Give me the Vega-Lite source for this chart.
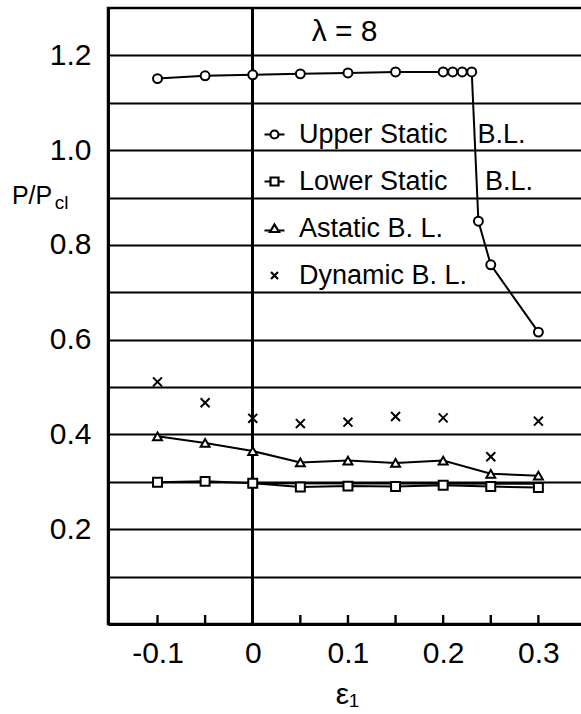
{
  "$schema": "https://vega.github.io/schema/vega-lite/v6.json",
  "width": 478,
  "height": 616,
  "autosize": {"type": "none"},
  "padding": {"left": 108, "top": 8, "right": 0, "bottom": 90},
  "background": "white",
  "config": {
    "font": "Liberation Sans",
    "view": {"stroke": "black", "strokeWidth": 2.5}
  },
  "datasets": {
    "pts": [
      {"series": "Upper", "e": -0.1, "p": 1.151},
      {"series": "Upper", "e": -0.05, "p": 1.157},
      {"series": "Upper", "e": 0, "p": 1.159},
      {"series": "Upper", "e": 0.05, "p": 1.161},
      {"series": "Upper", "e": 0.1, "p": 1.163},
      {"series": "Upper", "e": 0.15, "p": 1.165},
      {"series": "Upper", "e": 0.2, "p": 1.165},
      {"series": "Upper", "e": 0.21, "p": 1.165},
      {"series": "Upper", "e": 0.22, "p": 1.165},
      {"series": "Upper", "e": 0.23, "p": 1.165},
      {"series": "Upper", "e": 0.237, "p": 0.85},
      {"series": "Upper", "e": 0.25, "p": 0.758},
      {"series": "Upper", "e": 0.3, "p": 0.616},
      {"series": "Lower", "e": -0.1, "p": 0.299},
      {"series": "Lower", "e": -0.05, "p": 0.301},
      {"series": "Lower", "e": 0, "p": 0.297},
      {"series": "Lower", "e": 0.05, "p": 0.289},
      {"series": "Lower", "e": 0.1, "p": 0.291},
      {"series": "Lower", "e": 0.15, "p": 0.29},
      {"series": "Lower", "e": 0.2, "p": 0.293},
      {"series": "Lower", "e": 0.25, "p": 0.29},
      {"series": "Lower", "e": 0.3, "p": 0.288},
      {"series": "Astatic", "e": -0.1, "p": 0.396},
      {"series": "Astatic", "e": -0.05, "p": 0.382},
      {"series": "Astatic", "e": 0, "p": 0.365},
      {"series": "Astatic", "e": 0.05, "p": 0.341},
      {"series": "Astatic", "e": 0.1, "p": 0.345},
      {"series": "Astatic", "e": 0.15, "p": 0.34},
      {"series": "Astatic", "e": 0.2, "p": 0.345},
      {"series": "Astatic", "e": 0.25, "p": 0.317},
      {"series": "Astatic", "e": 0.3, "p": 0.313},
      {"series": "Dynamic", "e": -0.1, "p": 0.511},
      {"series": "Dynamic", "e": -0.05, "p": 0.467},
      {"series": "Dynamic", "e": 0, "p": 0.434},
      {"series": "Dynamic", "e": 0.05, "p": 0.423},
      {"series": "Dynamic", "e": 0.1, "p": 0.426},
      {"series": "Dynamic", "e": 0.15, "p": 0.438},
      {"series": "Dynamic", "e": 0.2, "p": 0.435},
      {"series": "Dynamic", "e": 0.25, "p": 0.353},
      {"series": "Dynamic", "e": 0.3, "p": 0.428},
      {"series": "Ref", "e": 0, "p": 0.297},
      {"series": "Ref", "e": 0.3, "p": 0.296}
    ]
  },
  "data": {"name": "pts"},
  "resolve": {"scale": {"shape": "independent"}, "legend": {"shape": "independent"}},
  "layer": [
    {
      "transform": [{"filter": "datum.series != 'Dynamic'"}],
      "mark": {"type": "line", "color": "black", "strokeWidth": 2},
      "encoding": {
        "x": {
          "field": "e", "type": "quantitative",
          "scale": {"domain": [-0.152, 0.35], "nice": false, "zero": false},
          "axis": {
            "values": [-0.1, 0, 0.1, 0.2, 0.3],
            "grid": false,
            "ticks": false,
            "domainColor": "black", "domainWidth": 3,
            "labelFontSize": 30, "labelColor": "black", "labelPadding": 14,
            "labelFont": "Liberation Sans",
            "labelExpr": "datum.value == 0 ? '0' : ((datum.value < 0 ? '-' : '') + format(abs(datum.value), '.1f'))",
            "title": "ε₁", "titleFontSize": 30, "titleFont": "Liberation Sans",
            "titleFontWeight": "normal", "titleColor": "black", "titlePadding": 11
          }
        },
        "y": {
          "field": "p", "type": "quantitative",
          "scale": {"domain": [0, 1.3], "nice": false, "zero": false},
          "axis": {
            "values": [0.1, 0.2, 0.3, 0.4, 0.5, 0.6, 0.7, 0.8, 0.9, 1.0, 1.1, 1.2],
            "grid": true, "gridColor": "black", "gridWidth": 1.8, "gridOpacity": 1,
            "ticks": false,
            "domainColor": "black", "domainWidth": 3,
            "labelFontSize": 30, "labelColor": "black", "labelPadding": 17,
            "labelFont": "Liberation Sans",
            "labelExpr": "(round(datum.value*10) % 2 == 0) ? format(datum.value, '.1f') : ''",
            "title": null
          }
        },
        "detail": {"field": "series"}
      }
    },
    {
      "mark": {"type": "rule", "color": "black", "strokeWidth": 2},
      "encoding": {"x": {"datum": 0, "type": "quantitative"}}
    },
    {
      "transform": [{"filter": "datum.series == 'Lower'"}],
      "mark": {"type": "rule", "color": "black", "strokeWidth": 2.4},
      "encoding": {
        "x": {"field": "e", "type": "quantitative"},
        "y": {"datum": 0, "type": "quantitative"},
        "y2": {"datum": 0.019}
      }
    },
    {
      "transform": [{"filter": "datum.series != 'Ref'"}],
      "mark": {"type": "point", "filled": true, "fill": "white", "stroke": "black", "strokeWidth": 2, "size": 80, "opacity": 1},
      "encoding": {
        "x": {"field": "e", "type": "quantitative"},
        "y": {"field": "p", "type": "quantitative"},
        "shape": {
          "field": "series", "type": "nominal",
          "scale": {"domain": ["Upper", "Lower", "Astatic", "Dynamic"], "range": ["circle", "square", "triangle-up", "M-1,-1L1,1M-1,1L1,-1"]},
          "legend": null
        }
      }
    },
    {
      "transform": [{"filter": "datum.series != 'Ref'"}],
      "mark": {"type": "point", "opacity": 0, "size": 400},
      "encoding": {
        "x": {"field": "e", "type": "quantitative"},
        "y": {"field": "p", "type": "quantitative"},
        "shape": {
          "field": "series", "type": "nominal",
          "scale": {
            "domain": ["Upper", "Lower", "Astatic", "Dynamic"],
            "range": [
              "M-1,0L-0.4,0M0.4,0L1,0M0.4,0A0.4,0.4,0,1,1,-0.4,0A0.4,0.4,0,1,1,0.4,0",
              "M-1,0L-0.4,0M0.4,0L1,0M-0.4,-0.4L0.4,-0.4L0.4,0.4L-0.4,0.4Z",
              "M-1,0.2L-0.36,0.2M0.36,0.2L1,0.2M0,-0.4L0.45,0.35L-0.45,0.35Z",
              "M-0.35,-0.35L0.35,0.35M-0.35,0.35L0.35,-0.35"
            ]
          },
          "legend": {
            "orient": "none", "legendX": 153, "legendY": 113,
            "title": null, "padding": 0,
            "labelFontSize": 27, "labelFont": "Liberation Sans", "labelColor": "black",
            "labelLimit": 400, "labelOffset": 11,
            "symbolSize": 400, "symbolStrokeColor": "black", "symbolFillColor": "white",
            "symbolStrokeWidth": 2.2, "symbolOpacity": 1,
            "rowPadding": 19,
            "labelExpr": "datum.label == 'Upper' ? 'Upper Static\u00a0\u00a0\u00a0\u00a0B.L.' : datum.label == 'Lower' ? 'Lower Static\u00a0\u00a0\u00a0\u00a0\u00a0B.L.' : datum.label == 'Astatic' ? 'Astatic B. L.' : 'Dynamic B. L.'"
          }
        }
      }
    },
    {
      "data": {"values": [{}]},
      "mark": {"type": "text", "text": "λ = 8", "fontSize": 30, "align": "center", "baseline": "middle", "font": "Liberation Sans", "color": "black"},
      "encoding": {"x": {"datum": 0.0965, "type": "quantitative"}, "y": {"datum": 1.249, "type": "quantitative"}}
    },
    {
      "data": {"values": [{}]},
      "mark": {"type": "text", "text": "P/P", "fontSize": 25, "align": "left", "baseline": "alphabetic", "font": "Liberation Sans", "color": "black"},
      "encoding": {"x": {"datum": -0.2529, "type": "quantitative"}, "y": {"datum": 0.887, "type": "quantitative"}}
    },
    {
      "data": {"values": [{}]},
      "mark": {"type": "text", "text": "cl", "fontSize": 19, "align": "left", "baseline": "alphabetic", "font": "Liberation Sans", "color": "black"},
      "encoding": {"x": {"datum": -0.2078, "type": "quantitative"}, "y": {"datum": 0.876, "type": "quantitative"}}
    }
  ]
}
